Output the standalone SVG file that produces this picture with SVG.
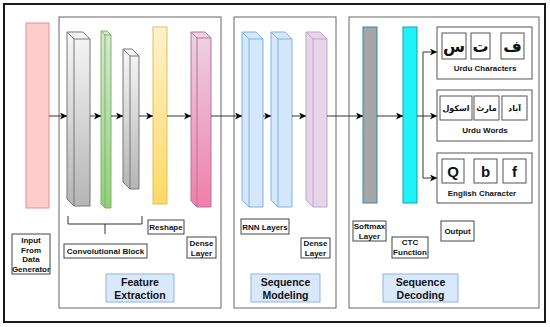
<svg xmlns="http://www.w3.org/2000/svg" width="550" height="327" viewBox="0 0 550 327">
<style>
text{font-family:"Liberation Sans","DejaVu Sans",Arial,sans-serif;font-weight:bold;fill:#111;text-anchor:middle}
.s{font-size:8px}
.t{font-size:10.5px}
.big{font-size:15px}
.arc{font-family:"DejaVu Sans","Noto Sans",sans-serif;font-weight:bold;font-size:16px}
.arw{font-family:"DejaVu Sans","Noto Sans",sans-serif;font-weight:bold;font-size:8px}
.lbl{fill:#fff;stroke:#444;stroke-width:1}
.ttl{fill:#dae8fc;stroke:#8fb3dd;stroke-width:1}
.panel{fill:#fff;stroke:#666;stroke-width:1}
.ob{fill:#fff;stroke:#555;stroke-width:1}
.conn{fill:none;stroke:#333;stroke-width:1;marker-end:url(#ah)}
.line{fill:none;stroke:#333;stroke-width:1}
.edge{fill:none;stroke-width:1}
</style>
<defs>
<marker id="ah" markerWidth="7" markerHeight="7" refX="7" refY="3.5" orient="auto" markerUnits="userSpaceOnUse">
<path d="M0,0 L7,3.5 L0,7 L2,3.5 Z" fill="#000"/>
</marker>
<linearGradient id="gGray" x1="0" y1="0" x2="0" y2="1"><stop offset="0" stop-color="#f7f7f7"/><stop offset="1" stop-color="#b5b5b5"/></linearGradient>
<linearGradient id="gGreen" x1="0" y1="0" x2="0" y2="1"><stop offset="0" stop-color="#d5e8d4"/><stop offset="1" stop-color="#8fd07a"/></linearGradient>
<linearGradient id="gYellow" x1="0" y1="0" x2="0" y2="1"><stop offset="0" stop-color="#fff2cc"/><stop offset="1" stop-color="#ffd966"/></linearGradient>
<linearGradient id="gPink" x1="0" y1="0" x2="0" y2="1"><stop offset="0" stop-color="#ecd3e2"/><stop offset="1" stop-color="#f07fa8"/></linearGradient>
</defs>

<rect x="4" y="4" width="541" height="318" fill="#fff" stroke="#1a1a1a" stroke-width="2"/>

<g id="panel-feature"><rect class="panel" x="59" y="17" width="162" height="291"/></g>
<g id="panel-sequence-modeling"><rect class="panel" x="234" y="17" width="102" height="291"/></g>
<g id="panel-sequence-decoding"><rect class="panel" x="349" y="17" width="190" height="291"/></g>

<g id="input-bar"><rect x="26" y="23" width="23" height="185" fill="#ffcccc" stroke="#ea8e8b" stroke-width="1"/></g>

<g id="conv1">
<path d="M67,32 L83,32 L90,39 L90,206 L74,206 L67,199 Z" fill="url(#gGray)" stroke="#777"/>
<path class="edge" stroke="#777" d="M67,32 L74,39 L90,39 M74,39 L74,206"/>
</g>
<g id="conv-green">
<path d="M101,31 L107,31 L111,35 L111,208 L105,208 L101,204 Z" fill="url(#gGreen)" stroke="#82b366"/>
<path class="edge" stroke="#82b366" d="M101,31 L105,35 L111,35 M105,35 L105,208"/>
</g>
<g id="conv2">
<path d="M123,49 L132,49 L139,56 L139,189 L130,189 L123,182 Z" fill="url(#gGray)" stroke="#777"/>
<path class="edge" stroke="#777" d="M123,49 L130,56 L139,56 M130,56 L130,189"/>
</g>
<g id="reshape-bar"><rect x="153" y="27" width="14" height="177" fill="url(#gYellow)" stroke="#e0c060"/></g>
<g id="dense1">
<path d="M191,32 L205,32 L211,38 L211,207 L197,207 L191,201 Z" fill="url(#gPink)" stroke="#b5739d"/>
<path class="edge" stroke="#b5739d" d="M191,32 L197,38 L211,38 M197,38 L197,207"/>
</g>

<g id="rnn1">
<path d="M242,32 L256,32 L263,39 L263,207 L249,207 L242,200 Z" fill="#d4e7fb" stroke="#7fb2e5"/>
<path class="edge" stroke="#7fb2e5" d="M242,32 L249,39 L263,39 M249,39 L249,207"/>
</g>
<g id="rnn2">
<path d="M271,32 L285,32 L292,39 L292,207 L278,207 L271,200 Z" fill="#d4e7fb" stroke="#7fb2e5"/>
<path class="edge" stroke="#7fb2e5" d="M271,32 L278,39 L292,39 M278,39 L278,207"/>
</g>
<g id="dense2">
<path d="M306,32 L320,32 L327,39 L327,207 L313,207 L306,200 Z" fill="#e6d5e9" stroke="#c3a3cf"/>
<path class="edge" stroke="#c3a3cf" d="M306,32 L313,39 L327,39 M313,39 L313,207"/>
</g>

<g id="softmax-bar"><rect x="363" y="27" width="14" height="176" fill="#a6a6a6" stroke="#2a8ab5"/></g>
<g id="ctc-bar"><rect x="403" y="27" width="14" height="176" fill="#1ff3f7" stroke="#1a9ab0"/></g>

<g id="connectors">
<path class="conn" d="M49,116 L67,116"/>
<path class="conn" d="M90,116 L101,116"/>
<path class="conn" d="M111,116 L123,116"/>
<path class="conn" d="M139,116 L153,116"/>
<path class="conn" d="M167,116 L191,116"/>
<path class="conn" d="M211,116 L242,116"/>
<path class="conn" d="M263,116 L271,116"/>
<path class="conn" d="M292,116 L306,116"/>
<path class="conn" d="M327,116 L363,116"/>
<path class="conn" d="M377,116 L403,116"/>
<path class="conn" d="M417,116 L437,116"/>
<path class="conn" d="M423,116 L423,52 L437,52"/>
<path class="conn" d="M423,116 L423,178 L437,178"/>
<path class="line" d="M68,216 L68,224 L142,224 L142,216 M105,224 L105,234"/>
</g>

<g id="out-urdu-chars">
<rect class="ob" x="437" y="27" width="95" height="52"/>
<rect class="ob" x="442" y="33" width="24" height="26"/>
<rect class="ob" x="471" y="33" width="19" height="26"/>
<rect class="ob" x="501" y="33" width="23" height="26"/>
<text class="arc" x="454" y="52">س</text>
<text class="arc" x="480.5" y="52">ت</text>
<text class="arc" x="512.5" y="52">ف</text>
<text class="s" x="485" y="71">Urdu Characters</text>
</g>
<g id="out-urdu-words">
<rect class="ob" x="437" y="90" width="95" height="51"/>
<rect class="ob" x="440" y="96" width="32" height="24"/>
<rect class="ob" x="474" y="96" width="25" height="24"/>
<rect class="ob" x="502" y="96" width="25" height="24"/>
<text class="arw" x="456" y="111">اسکول</text>
<text class="arw" x="486.5" y="111">مارٹ</text>
<text class="arw" x="514.5" y="111">آباد</text>
<text class="s" x="485" y="133">Urdu Words</text>
</g>
<g id="out-english">
<rect class="ob" x="437" y="153" width="95" height="50"/>
<rect class="ob" x="442" y="159" width="22" height="24"/>
<rect class="ob" x="474" y="159" width="23" height="24"/>
<rect class="ob" x="503" y="159" width="23" height="24"/>
<text class="big" x="453" y="177">Q</text>
<text class="big" x="485.5" y="177">b</text>
<text class="big" x="514.5" y="177">f</text>
<text class="s" x="482" y="196">English Character</text>
</g>

<g id="label-input">
<rect class="lbl" x="12" y="234" width="38" height="40"/>
<text class="s" x="31" y="243">Input</text>
<text class="s" x="31" y="252.5">From</text>
<text class="s" x="31" y="262">Data</text>
<text class="s" x="31" y="271.5">Generator</text>
</g>
<g id="label-conv">
<rect class="lbl" x="64" y="244" width="83" height="14"/>
<text class="s" x="105.5" y="254">Convolutional Block</text>
</g>
<g id="label-reshape">
<rect class="lbl" x="148" y="220" width="36" height="14"/>
<text class="s" x="166" y="230">Reshape</text>
</g>
<g id="label-dense1">
<rect class="lbl" x="187" y="237" width="29" height="21"/>
<text class="s" x="201.5" y="245.5">Dense</text>
<text class="s" x="201.5" y="255.5">Layer</text>
</g>
<g id="title-feature">
<rect class="ttl" x="106" y="274" width="68" height="28"/>
<text class="t" x="140" y="286">Feature</text>
<text class="t" x="140" y="299">Extraction</text>
</g>

<g id="label-rnn">
<rect class="lbl" x="241" y="219" width="48" height="15"/>
<text class="s" x="265" y="229.5">RNN Layers</text>
</g>
<g id="label-dense2">
<rect class="lbl" x="301" y="238" width="29" height="20"/>
<text class="s" x="315.5" y="246">Dense</text>
<text class="s" x="315.5" y="256">Layer</text>
</g>
<g id="title-seqmod">
<rect class="ttl" x="251" y="274" width="69" height="28"/>
<text class="t" x="285.5" y="286">Sequence</text>
<text class="t" x="285.5" y="299">Modeling</text>
</g>

<g id="label-softmax">
<rect class="lbl" x="353" y="221" width="33" height="20"/>
<text class="s" x="369.5" y="229">Softmax</text>
<text class="s" x="369.5" y="239">Layer</text>
</g>
<g id="label-ctc">
<rect class="lbl" x="392" y="237" width="36" height="21"/>
<text class="s" x="410" y="245">CTC</text>
<text class="s" x="410" y="255">Function</text>
</g>
<g id="label-output">
<rect class="lbl" x="441" y="221" width="33" height="20"/>
<text class="s" x="457.5" y="234">Output</text>
</g>
<g id="title-seqdec">
<rect class="ttl" x="383" y="274" width="75" height="28"/>
<text class="t" x="420.5" y="286">Sequence</text>
<text class="t" x="420.5" y="299">Decoding</text>
</g>
</svg>
